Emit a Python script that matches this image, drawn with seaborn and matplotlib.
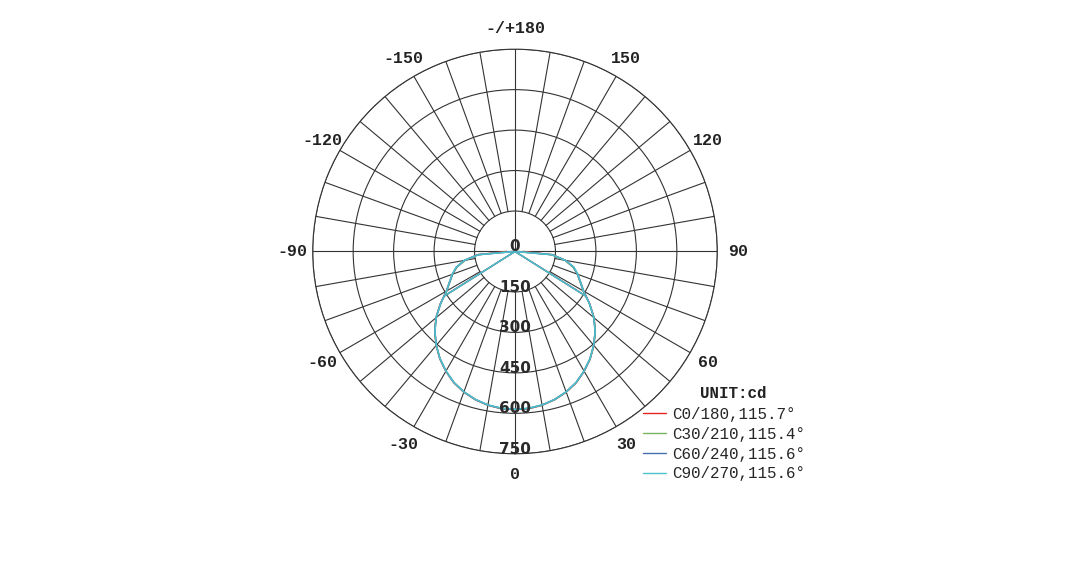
import numpy as np
import pandas as pd
import matplotlib
matplotlib.use("Agg")
import matplotlib.pyplot as plt
import seaborn as sns

# ---------------------------
# DATA (candela; half profile 0..90 deg, mirrored)
# ---------------------------
gamma_deg = [0, 5, 10, 15, 20, 25, 30, 35, 40, 45, 50, 55, 60, 65, 70, 75, 80, 85, 90]
c0_180 = [587, 585, 579, 569, 555, 537, 513, 486, 455, 421, 383, 338, 294, 268, 247, 224, 189, 140, 30]
c30_210 = [586, 584, 578, 568, 554, 536, 512, 485, 454, 420, 382, 336, 292, 266, 246, 223, 188, 137, 10]
c60_240 = [586, 584, 578, 568, 554, 536, 512, 485, 454, 420, 382, 337, 293, 267, 247, 225, 190, 138, 5]
c90_270 = [585, 583, 578, 568, 554, 536, 512, 485, 454, 420, 382, 337, 293, 268, 248, 226, 191, 136, 0]
beam_angles = [115.7, 115.4, 115.6, 115.6]
series_names = ["C0/180", "C30/210", "C60/240", "C90/270"]
colors = ["#e8231f", "#79b45e", "#4a6cb3", "#4cc2cf"]

ring_values = [0, 150, 300, 450, 600, 750]
theta_ticks = [0, 30, 60, 90, 120, 150, 180, 210, 240, 270, 300, 330]
theta_labels = ["0", "30", "60", "90", "120", "150", "-/+180",
                "-150", "-120", "-90", "-60", "-30"]

# ---------------------------
# DATAFRAME
# ---------------------------
rows = []
for name, vals in zip(series_names, [c0_180, c30_210, c60_240, c90_270]):
    g = np.array(gamma_deg, dtype=float)
    v = np.array(vals, dtype=float)
    th = np.concatenate([-g[::-1], g[1:]])
    rr = np.concatenate([v[::-1], v[1:]])
    for t, r in zip(th, rr):
        rows.append({"serie": name, "theta": np.deg2rad(t), "cd": r})
df = pd.DataFrame(rows)

# ---------------------------
# FIGURE
# ---------------------------
sns.set_style("white")
fig = plt.figure(figsize=(10.79, 5.68), dpi=100)
ax = fig.add_axes([0.2898, 0.2011, 0.375, 0.7123], projection="polar")
ax.set_theta_zero_location("S")
ax.set_theta_direction(1)
ax.set_rlim(0, 750)

grid_col = "#333333"
ax.xaxis.grid(False)
ax.set_xticks([])
ax.set_yticks([150, 300, 450, 600, 750])
ax.set_yticklabels([])
ax.yaxis.grid(True, color=grid_col, linewidth=0.8)
ax.spines["polar"].set_color(grid_col)
ax.spines["polar"].set_linewidth(0.8)

# spokes every 10 deg from the 150 ring, full lines on the axes
for a in range(0, 360, 10):
    r0 = 0 if a in (90, 180, 270) else 150
    ax.plot([np.deg2rad(a)] * 2, [r0, 750], color=grid_col, lw=0.8, zorder=1)

# angle labels, centred on a circle just outside the chart
for a, lab in zip(theta_ticks, theta_labels):
    ax.text(np.deg2rad(a), 826, lab, ha="center", va="center", fontsize=12,
            family="Liberation Mono", weight="bold", color="#222222")

for r in ring_values:
    ax.text(0, r, str(r), ha="center", va="baseline", fontsize=11,
            color="#2a2a2a", family="DejaVu Sans", weight="bold", zorder=5)

# curves
sns.lineplot(data=df, x="theta", y="cd", hue="serie", palette=colors,
             sort=False, estimator=None, linewidth=1.1, ax=ax, legend=False, zorder=3)
ax.set_xlabel("")
ax.set_ylabel("")

# beam angle lines
for name, vals, ba, c in zip(series_names, [c0_180, c30_210, c60_240, c90_270], beam_angles, colors):
    half = ba / 2
    r_half = np.interp(half, gamma_deg, vals)
    for s in (-1, 1):
        ax.plot([0, np.deg2rad(s * half)], [0, r_half], color=c, lw=1.0, zorder=3)

# legend
handles = [plt.Line2D([], [], color=c, lw=1.0) for c in colors]
labels = [f"{n},{b}°" for n, b in zip(series_names, beam_angles)]
fig.legend(handles, labels, loc="upper left", bbox_to_anchor=(643 / 1079, 1 - 407 / 568),
           frameon=False, borderpad=0, borderaxespad=0, handlelength=1.45,
           handletextpad=0.4, labelspacing=0.3,
           prop={"family": "Liberation Mono", "size": 11.4})
fig.text(733.5 / 1079, 1 - 393 / 568, "UNIT:cd", ha="center", va="center",
         family="Liberation Mono", weight="bold", fontsize=11.4, color="#222222")

fig.savefig("out.png", dpi=100)
